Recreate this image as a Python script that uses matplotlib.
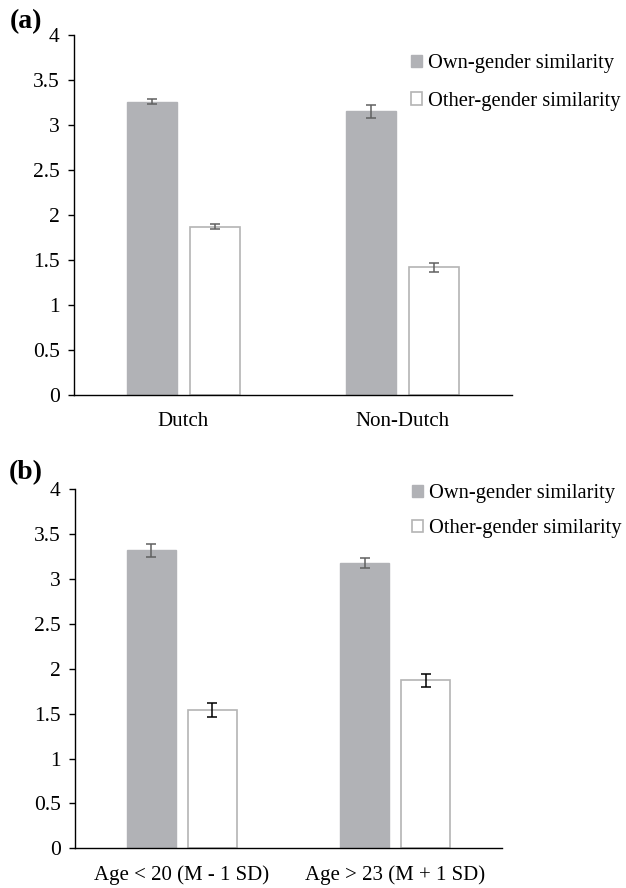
import matplotlib
matplotlib.use("Agg")
import matplotlib.pyplot as plt
import numpy as np

plt.rcParams['font.family'] = ['Liberation Serif', 'DejaVu Serif']

# Data
series_names = ["Own-gender similarity", "Other-gender similarity"]
cats_a = ["Dutch", "Non-Dutch"]
own_a = [3.26, 3.15]
own_a_err = [0.03, 0.07]
other_a = [1.87, 1.42]
other_a_err = [0.03, 0.05]

cats_b = ["Age < 20 (M - 1 SD)", "Age > 23 (M + 1 SD)"]
own_b = [3.32, 3.18]
own_b_err = [0.07, 0.06]
other_b = [1.54, 1.87]
other_b_err = [0.08, 0.07]

yticks = [0, 0.5, 1, 1.5, 2, 2.5, 3, 3.5, 4]
ytick_labels = ["0", "0.5", "1", "1.5", "2", "2.5", "3", "3.5", "4"]

W, H = 626, 888
fig = plt.figure(figsize=(W / 100, H / 100), dpi=100)

GRAY = "#b1b2b6"
EDGE_W = "#b4b4b4"

def panel(rect, cats, own, own_err, other, other_err, other_ecolor, label, label_xy, leg_xy, lspace):
    ax = fig.add_axes(rect)
    x = np.arange(len(cats))
    off = 0.143
    bw = 0.228
    b1 = ax.bar(x - off, own, bw, color=GRAY, edgecolor=GRAY, linewidth=1, label=series_names[0])
    b2 = ax.bar(x + off, other, bw, color="white", edgecolor=EDGE_W, linewidth=1.2, label=series_names[1])
    ax.errorbar(x - off, own, yerr=own_err, fmt="none", ecolor="#606060", elinewidth=1.1, capsize=3.3, capthick=1.1)
    ax.errorbar(x + off, other, yerr=other_err, fmt="none", ecolor=other_ecolor, elinewidth=1.1, capsize=3.3, capthick=1.1)
    ax.set_xlim(-0.5, 1.5)
    ax.set_ylim(0, 4)
    ax.set_yticks(yticks)
    ax.set_yticklabels(ytick_labels)
    ax.set_xticks(x)
    ax.set_xticklabels(cats)
    for s in ["top", "right"]:
        ax.spines[s].set_visible(False)
    ax.spines["left"].set_linewidth(1.0)
    ax.spines["bottom"].set_linewidth(1.0)
    ax.spines["bottom"].set_zorder(5)
    ax.tick_params(axis="y", direction="out", length=4.3, width=1, labelsize=15.5, pad=6)
    ax.tick_params(axis="x", length=0, labelsize=15, pad=12)
    fig.legend(handles=[b1, b2], labels=series_names, loc="upper left",
               bbox_to_anchor=leg_xy, bbox_transform=fig.transFigure,
               frameon=False, fontsize=14.8, handlelength=0.55, handleheight=0.55,
               handletextpad=0.3, labelspacing=lspace, borderpad=0, borderaxespad=0)
    fig.text(label_xy[0], label_xy[1], label, fontsize=20, fontweight="bold",
             ha="left", va="center")
    return ax

panel([74 / W, 1 - 395 / H, (512 - 74) / W, 360 / H], cats_a, own_a, own_a_err,
      other_a, other_a_err, "#606060", "(a)", (10 / W, 1 - 22 / H), (411 / W, 1 - 54 / H), 0.92)
panel([75 / W, 1 - 848.3 / H, (502 - 75) / W, 359 / H], cats_b, own_b, own_b_err,
      other_b, other_b_err, "black", "(b)", (9 / W, 1 - 473 / H), (412 / W, 1 - 484 / H), 0.8)

fig.savefig("out.png", dpi=100)
